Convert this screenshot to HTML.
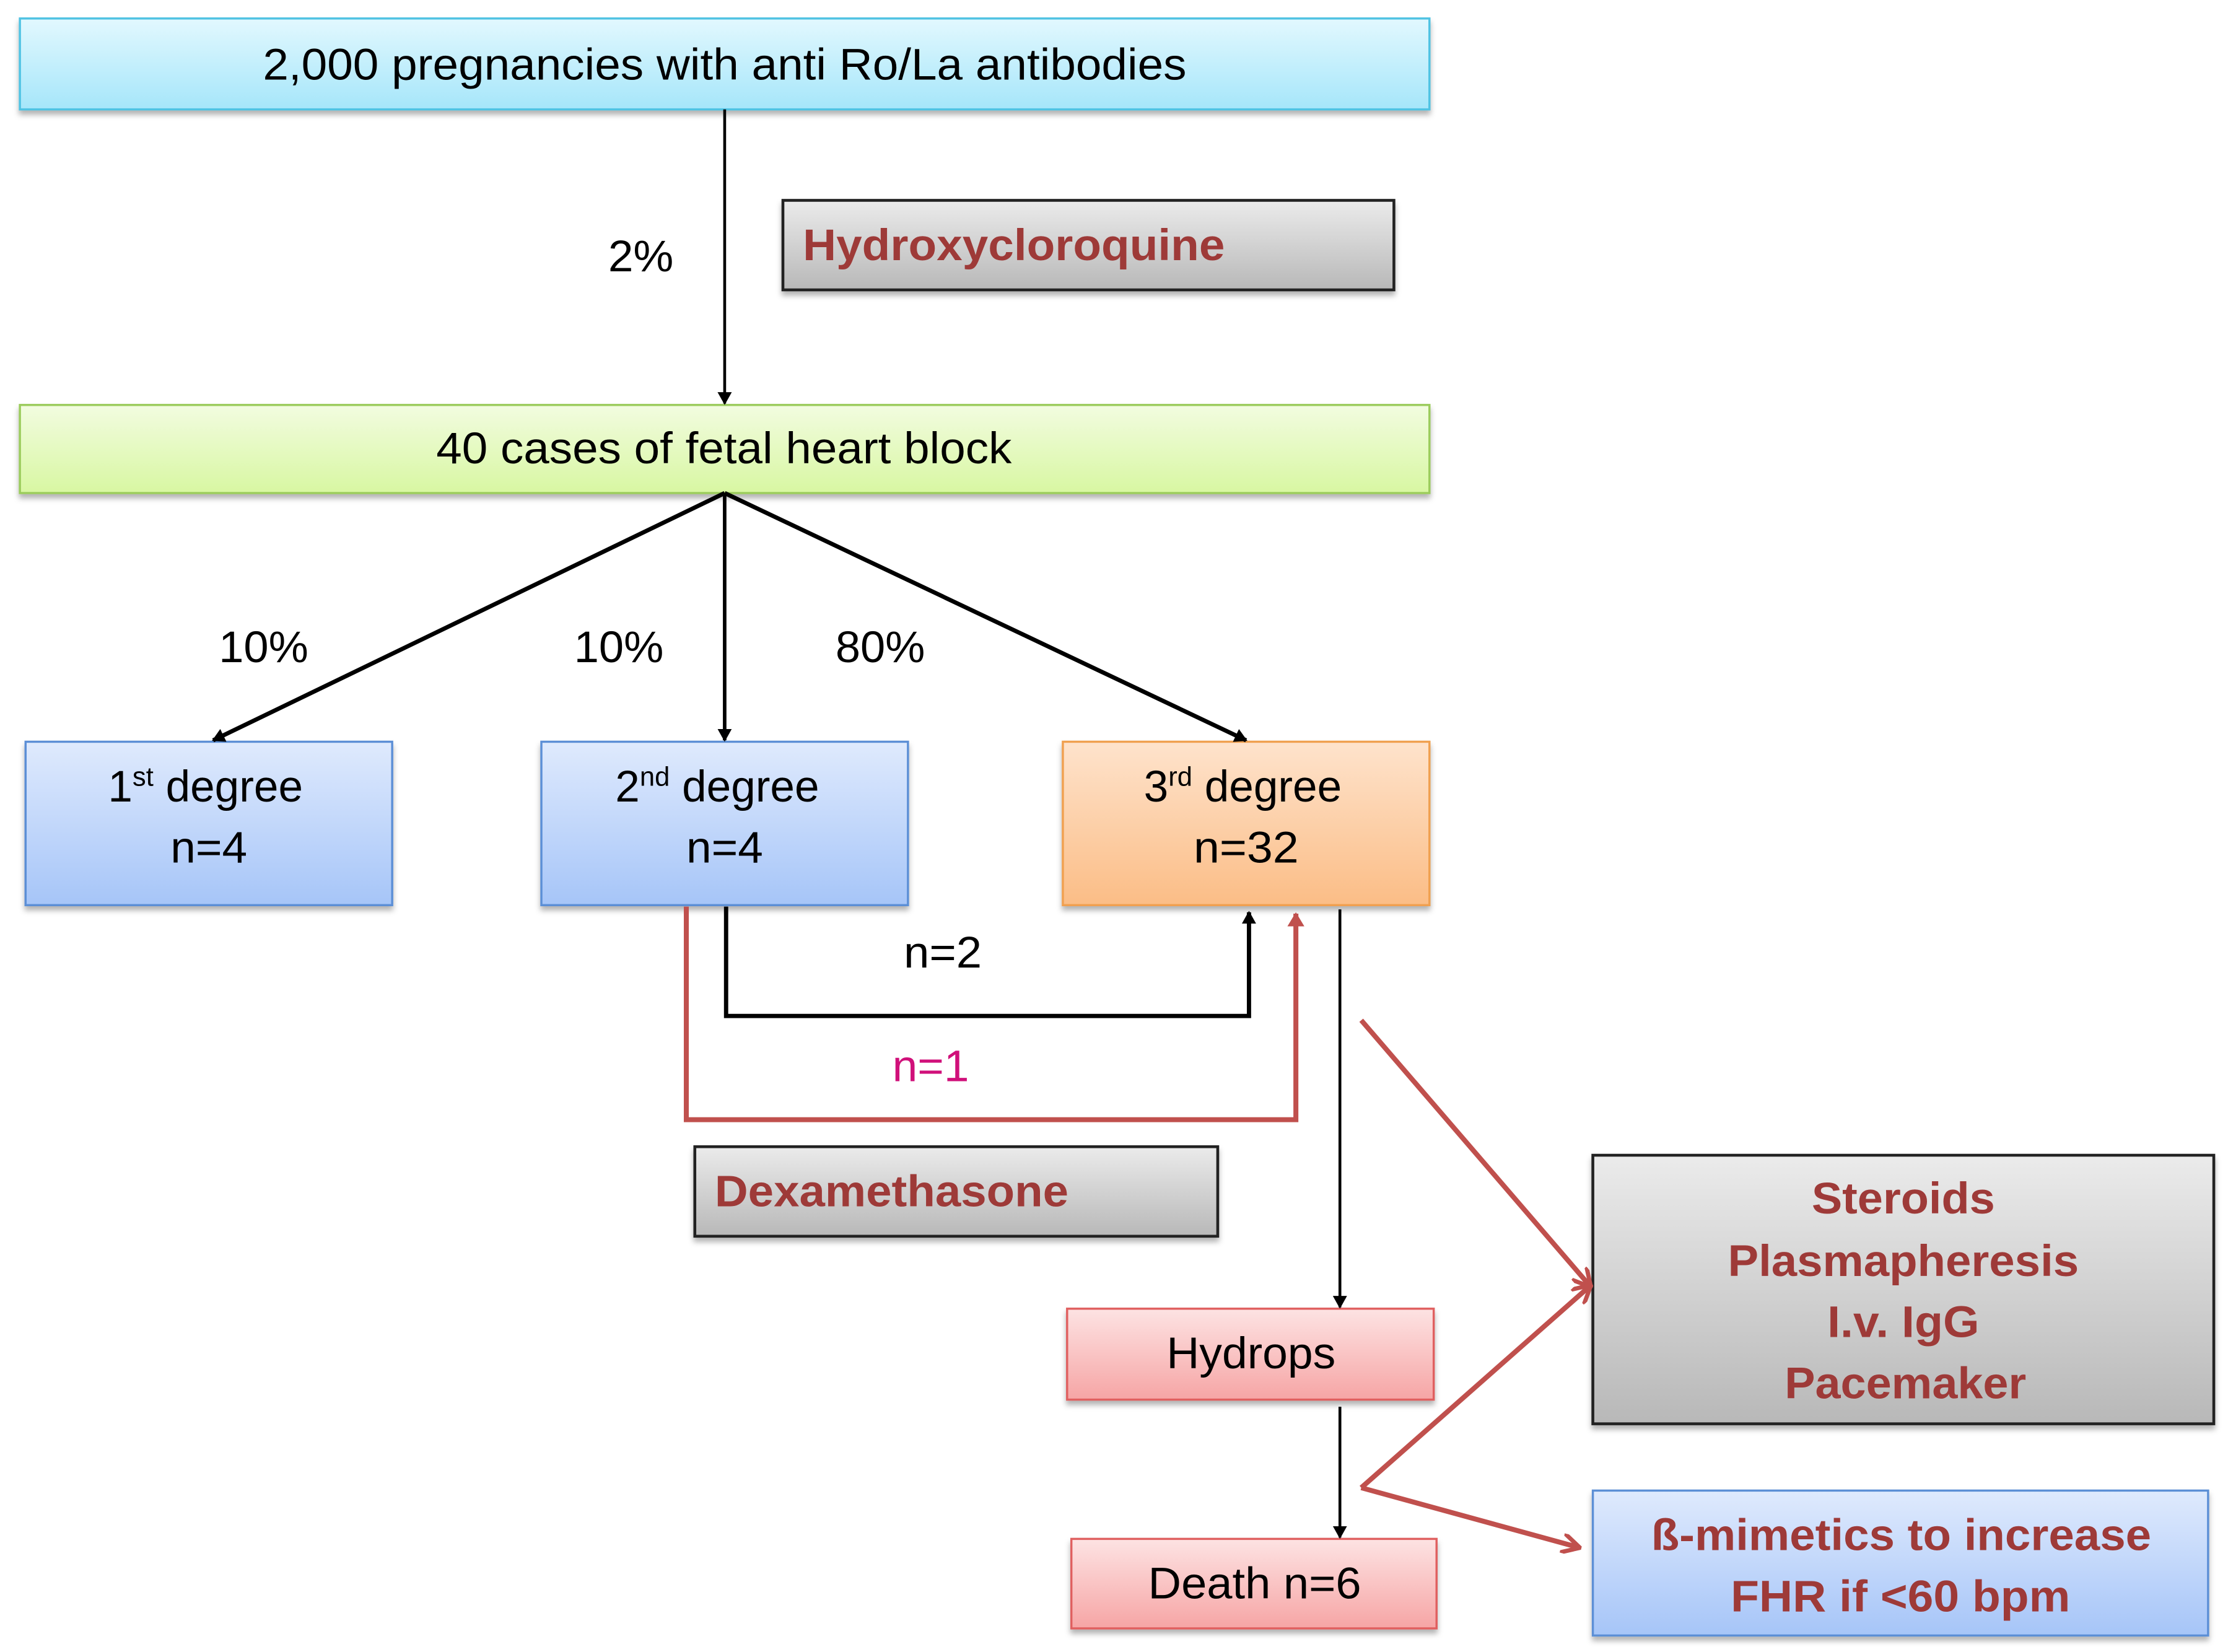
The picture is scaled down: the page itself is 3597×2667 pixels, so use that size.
<!DOCTYPE html>
<html><head><meta charset="utf-8"><style>html,body{margin:0;padding:0;background:#fff}svg{display:block}</style></head>
<body>
<svg width="3597" height="2667" viewBox="0 0 1568 1162.6" preserveAspectRatio="none" xmlns="http://www.w3.org/2000/svg" font-family="Liberation Sans, sans-serif">
<defs>
<linearGradient id="cy" x1="0" y1="0" x2="0" y2="1"><stop offset="0" stop-color="#e2f8fe"/><stop offset="1" stop-color="#a6e6fa"/></linearGradient>
<linearGradient id="gr" x1="0" y1="0" x2="0" y2="1"><stop offset="0" stop-color="#f2fce0"/><stop offset="1" stop-color="#d8f7a2"/></linearGradient>
<linearGradient id="bl" x1="0" y1="0" x2="0" y2="1"><stop offset="0" stop-color="#dfeafd"/><stop offset="1" stop-color="#a6c5f8"/></linearGradient>
<linearGradient id="or" x1="0" y1="0" x2="0" y2="1"><stop offset="0" stop-color="#fee3cc"/><stop offset="1" stop-color="#fbbd86"/></linearGradient>
<linearGradient id="pk" x1="0" y1="0" x2="0" y2="1"><stop offset="0" stop-color="#fde3e3"/><stop offset="1" stop-color="#f6a5a5"/></linearGradient>
<linearGradient id="gy" x1="0" y1="0" x2="0" y2="1"><stop offset="0" stop-color="#ebebeb"/><stop offset="1" stop-color="#b8b8b8"/></linearGradient>
<filter id="sh" x="-5%" y="-10%" width="110%" height="130%"><feDropShadow dx="0" dy="3" stdDeviation="2" flood-color="#000" flood-opacity="0.3"/></filter>
<marker id="ab" markerWidth="9" markerHeight="10" refX="8" refY="5" orient="auto" markerUnits="userSpaceOnUse"><path d="M0,0 L9,5 L0,10 z" fill="#000"/></marker>
<marker id="ar" markerWidth="14" markerHeight="14" refX="12" refY="7" orient="auto" markerUnits="userSpaceOnUse"><path d="M0,0 L13,7 L0,14" fill="none" stroke="#c0504d" stroke-width="3"/></marker>
<marker id="ar2" markerWidth="10" markerHeight="14" refX="9" refY="7" orient="auto" markerUnits="userSpaceOnUse"><path d="M0,1 L10,7 L0,13 z" fill="#c0504d"/></marker>
</defs>
<g stroke-width="1.5" filter="url(#sh)">
<rect x="14" y="13" width="992" height="64" fill="url(#cy)" stroke="#4fc3e3"/>
<rect x="551" y="141" width="430" height="63" fill="url(#gy)" stroke="#222" stroke-width="2"/>
<rect x="14" y="285" width="992" height="62" fill="url(#gr)" stroke="#9bcc5c"/>
<rect x="18" y="522" width="258" height="115" fill="url(#bl)" stroke="#5b8fd6"/>
<rect x="381" y="522" width="258" height="115" fill="url(#bl)" stroke="#5b8fd6"/>
<rect x="748" y="522" width="258" height="115" fill="url(#or)" stroke="#f0a050"/>
<rect x="489" y="807" width="368" height="63" fill="url(#gy)" stroke="#222" stroke-width="2"/>
<rect x="751" y="921" width="258" height="64" fill="url(#pk)" stroke="#e06060"/>
<rect x="754" y="1083" width="257" height="63" fill="url(#pk)" stroke="#e06060"/>
<rect x="1121" y="813" width="437" height="189" fill="url(#gy)" stroke="#222" stroke-width="2"/>
<rect x="1121" y="1049" width="433" height="102" fill="url(#bl)" stroke="#5b8fd6"/>
</g>
<g stroke="#000" fill="none">
<line x1="510" y1="77" x2="510" y2="284" stroke-width="2" marker-end="url(#ab)"/>
<line x1="510" y1="347" x2="150" y2="521" stroke-width="3" marker-end="url(#ab)"/>
<line x1="510" y1="347" x2="510" y2="521" stroke-width="2.5" marker-end="url(#ab)"/>
<line x1="510" y1="347" x2="877" y2="521" stroke-width="3" marker-end="url(#ab)"/>
<polyline points="511,638 511,715 879,715 879,642" stroke-width="3" marker-end="url(#ab)"/>
<line x1="943" y1="640" x2="943" y2="920" stroke-width="2" marker-end="url(#ab)"/>
<line x1="943" y1="990" x2="943" y2="1082" stroke-width="2" marker-end="url(#ab)"/>
</g>
<g stroke="#c0504d" fill="none" stroke-width="3.5">
<polyline points="483,638 483,788 912,788 912,643" marker-end="url(#ar2)"/>
<line x1="958" y1="718" x2="1119" y2="905" marker-end="url(#ar)"/>
<line x1="958" y1="1047" x2="1119" y2="905" marker-end="url(#ar)"/>
<line x1="958" y1="1047" x2="1111" y2="1089" marker-end="url(#ar)"/>
</g>
<g font-size="31" fill="#000">
<text x="185" y="56" textLength="650" lengthAdjust="spacingAndGlyphs">2,000 pregnancies with anti Ro/La antibodies</text>
<text x="428" y="191" textLength="46" lengthAdjust="spacingAndGlyphs">2%</text>
<text x="307" y="326" textLength="405" lengthAdjust="spacingAndGlyphs">40 cases of fetal heart block</text>
<text x="154" y="466" textLength="63" lengthAdjust="spacingAndGlyphs">10%</text>
<text x="404" y="466" textLength="63" lengthAdjust="spacingAndGlyphs">10%</text>
<text x="588" y="466" textLength="63" lengthAdjust="spacingAndGlyphs">80%</text>
<text x="76" y="564">1<tspan font-size="19" dy="-11">st</tspan><tspan dy="11"> degree</tspan></text>
<text x="120" y="607" textLength="54" lengthAdjust="spacingAndGlyphs">n=4</text>
<text x="433" y="564">2<tspan font-size="19" dy="-11">nd</tspan><tspan dy="11"> degree</tspan></text>
<text x="483" y="607" textLength="54" lengthAdjust="spacingAndGlyphs">n=4</text>
<text x="805" y="564">3<tspan font-size="19" dy="-11">rd</tspan><tspan dy="11"> degree</tspan></text>
<text x="840" y="607" textLength="74" lengthAdjust="spacingAndGlyphs">n=32</text>
<text x="636" y="681" textLength="55" lengthAdjust="spacingAndGlyphs">n=2</text>
<text x="628" y="761" textLength="54" lengthAdjust="spacingAndGlyphs" fill="#d0107a">n=1</text>
<text x="821" y="963" textLength="119" lengthAdjust="spacingAndGlyphs">Hydrops</text>
<text x="808" y="1125" textLength="150" lengthAdjust="spacingAndGlyphs">Death n=6</text>
</g>
<g font-size="31" font-weight="bold" fill="#9e3a38">
<text x="565" y="183" textLength="297" lengthAdjust="spacingAndGlyphs">Hydroxycloroquine</text>
<text x="503" y="849" textLength="249" lengthAdjust="spacingAndGlyphs">Dexamethasone</text>
<text x="1275" y="854" textLength="129" lengthAdjust="spacingAndGlyphs">Steroids</text>
<text x="1216" y="898" textLength="247" lengthAdjust="spacingAndGlyphs">Plasmapheresis</text>
<text x="1286" y="941" textLength="107" lengthAdjust="spacingAndGlyphs">I.v. IgG</text>
<text x="1256" y="984" textLength="170" lengthAdjust="spacingAndGlyphs">Pacemaker</text>
<text x="1162" y="1091" textLength="352" lengthAdjust="spacingAndGlyphs">ß-mimetics to increase</text>
<text x="1218" y="1134" textLength="239" lengthAdjust="spacingAndGlyphs">FHR if &lt;60 bpm</text>
</g>
</svg>
</body></html>
